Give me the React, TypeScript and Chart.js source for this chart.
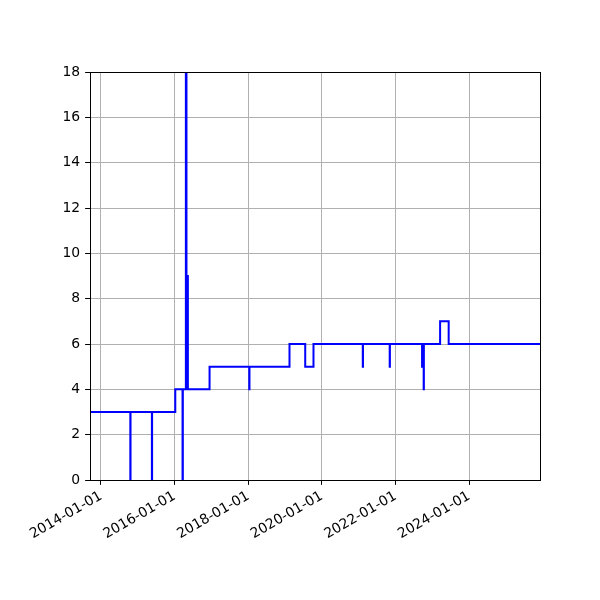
import React, { useEffect, useRef } from 'react';
import { Chart, registerables } from 'chart.js';

Chart.register(...registerables);

// Step series: each value holds from its date until the next date
const stepDates = [
  '2013-09-14', '2014-10-19', '2014-10-21', '2015-05-21', '2015-05-23',
  '2016-01-08', '2016-03-20', '2016-03-23', '2016-04-22', '2016-04-28',
  '2016-05-12', '2016-12-13', '2018-01-11', '2018-01-13', '2019-02-14',
  '2019-07-20', '2019-10-10', '2021-02-10', '2021-02-12', '2021-11-04',
  '2021-11-06', '2022-09-21', '2022-09-23', '2022-10-07', '2022-10-09',
  '2023-03-19', '2023-06-12', '2025-12-04',
];
const stepValues = [
  3, 0, 3, 0, 3,
  4, 0, 4, 18, 9,
  4, 5, 4, 5, 6,
  5, 6, 5, 6, 5,
  6, 5, 6, 4, 6,
  7, 6, 6,
];

const xTickDates = ['2014-01-01', '2016-01-01', '2018-01-01', '2020-01-01', '2022-01-01', '2024-01-01'];
const yTicks = [0, 2, 4, 6, 8, 10, 12, 14, 16, 18];
const xStart = '2013-09-14';
const xEnd = '2025-12-04';

// matplotlib-like frame round the plot area
const framePlugin = {
  id: 'frame',
  afterDatasetsDraw(chart: any) {
    const { ctx, chartArea: a } = chart;
    ctx.save();
    ctx.strokeStyle = '#000';
    ctx.lineWidth = 1;
    const l = Math.round(a.left) + 0.5;
    const t = Math.round(a.top) + 0.5;
    const r = Math.round(a.right) + 0.5;
    const b = Math.round(a.bottom) + 0.5;
    ctx.strokeRect(l, t, r - l, b - t);
    ctx.restore();
  },
};

const App: React.FC = () => {
  const chartRef = useRef<HTMLCanvasElement>(null);
  const chartInstance = useRef<Chart | null>(null);

  useEffect(() => {
    if (!chartRef.current) return;
    const ctx = chartRef.current.getContext('2d');
    if (!ctx) return;

    if (chartInstance.current) {
      chartInstance.current.destroy();
    }

    const points = stepDates.map((d, i) => ({ x: Date.parse(d), y: stepValues[i] }));
    const font = { family: 'DejaVu Sans', size: 13.9 };
    const grid = {
      color: '#b0b0b0',
      lineWidth: 1,
      tickColor: '#000',
      tickLength: 4.9,
      tickWidth: 1,
    };

    chartInstance.current = new Chart(ctx, {
      type: 'line',
      data: {
        datasets: [{
          data: points,
          borderColor: '#0000ff',
          borderWidth: 2,
          pointRadius: 0,
          fill: false,
          stepped: true,
        }],
      },
      options: {
        animation: false,
        responsive: false,
        layout: { padding: { top: 72, right: 60, left: 0, bottom: 0 } },
        scales: {
          x: {
            type: 'linear',
            min: Date.parse(xStart),
            max: Date.parse(xEnd),
            afterBuildTicks: (scale: any) => {
              scale.ticks = xTickDates.map(d => ({ value: Date.parse(d) }));
            },
            afterFit: (scale: any) => { scale.height = 120; },
            border: { display: false },
            grid,
            ticks: {
              autoSkip: false,
              minRotation: 30,
              maxRotation: 30,
              color: '#000',
              font,
              padding: 3,
              callback: (value: any) => new Date(Number(value)).toISOString().slice(0, 10),
            },
          },
          y: {
            min: 0,
            max: 18,
            afterBuildTicks: (scale: any) => {
              scale.ticks = yTicks.map(v => ({ value: v }));
            },
            afterFit: (scale: any) => { scale.width = 90; },
            border: { display: false },
            grid,
            ticks: {
              color: '#000',
              font,
              padding: 5,
            },
          },
        },
        plugins: {
          legend: { display: false },
          tooltip: { enabled: false },
        },
      },
      plugins: [framePlugin],
    });

    return () => {
      if (chartInstance.current) {
        chartInstance.current.destroy();
        chartInstance.current = null;
      }
    };
  }, []);

  return (
    <div style={{ position: 'absolute', left: 0, top: 0, width: 600, height: 600, background: '#fff' }}>
      <canvas ref={chartRef} width={600} height={600} />
    </div>
  );
};

export default App;
